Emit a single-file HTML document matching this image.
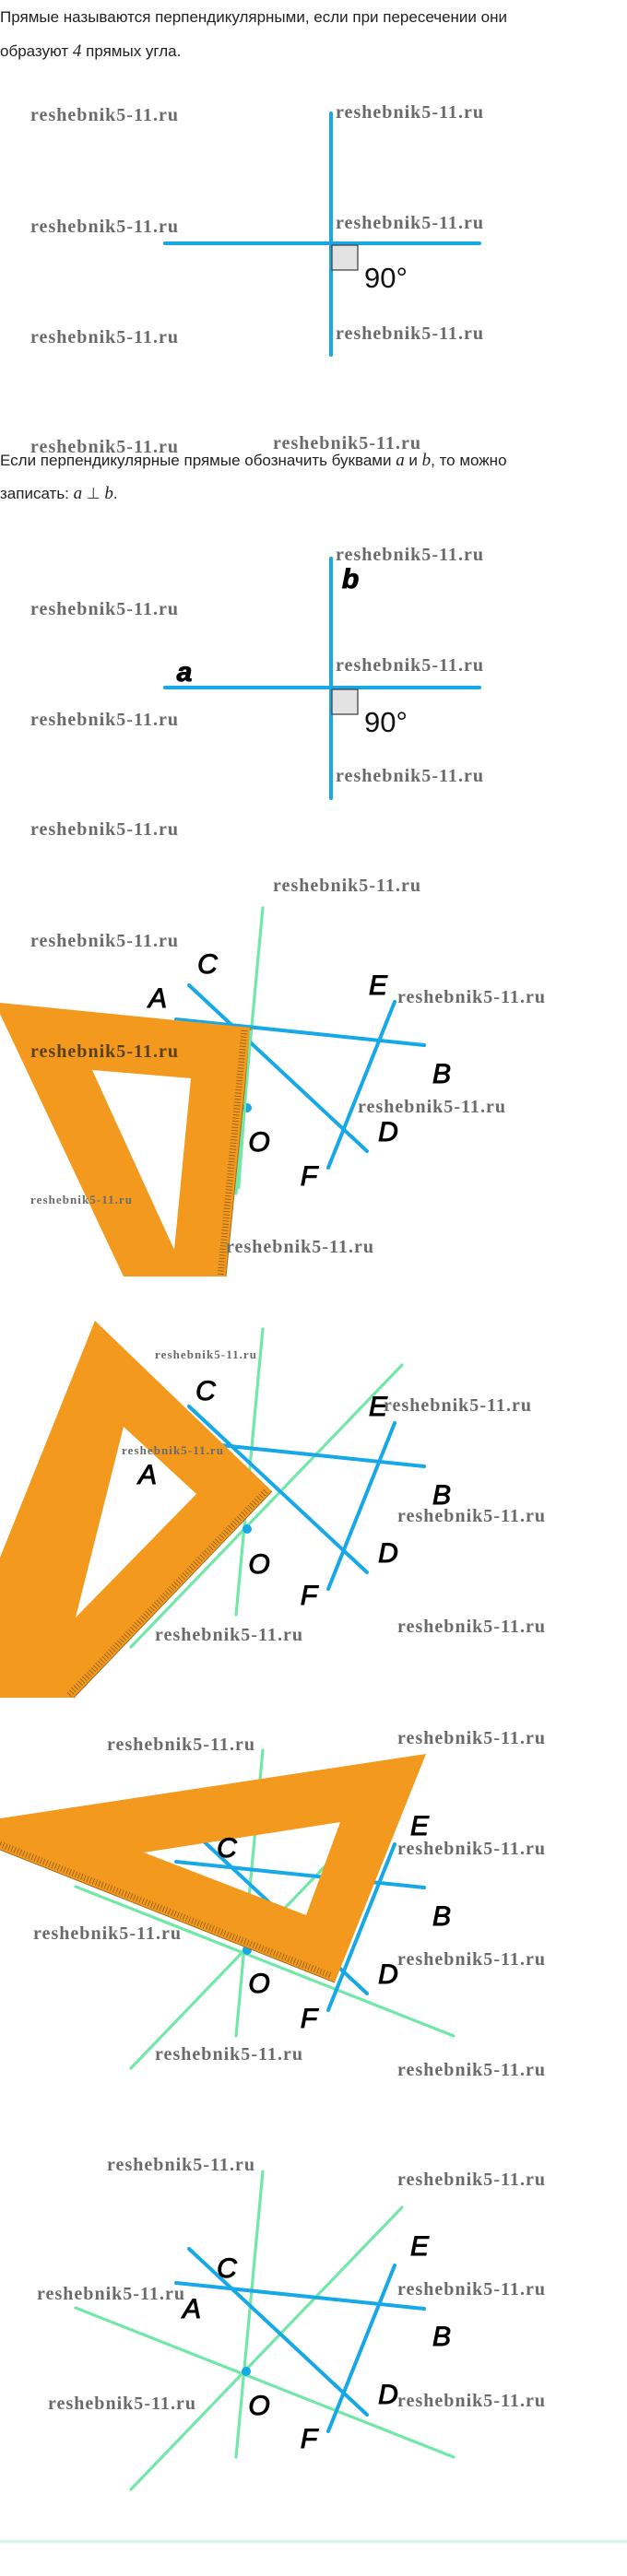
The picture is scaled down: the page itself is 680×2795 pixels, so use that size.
<!DOCTYPE html>
<html><head><meta charset="utf-8"><style>
html,body{margin:0;padding:0;background:#fff;}
svg{display:block;}
.t{font-family:"Liberation Sans",sans-serif;font-size:17px;fill:#222;}
.m{font-family:"Liberation Serif",serif;font-style:italic;font-size:19px;}
.w{font-family:"Liberation Serif",serif;font-weight:bold;font-size:20px;fill:#6a6a6a;}
.ws{font-family:"Liberation Serif",serif;font-weight:bold;font-size:13px;fill:#6a6a6a;}
.l{font-family:"Liberation Sans",sans-serif;font-style:italic;font-size:30px;fill:#000;stroke:#000;stroke-width:1;text-anchor:middle;}
.d{font-family:"Liberation Sans",sans-serif;font-size:31px;fill:#111;}
.b{stroke:#17a8e8;stroke-width:4;stroke-linecap:round;fill:none;}
.g{stroke:#72e8a8;stroke-width:3.2;stroke-linecap:round;fill:none;}
.tri{fill:#f39a1e;fill-rule:evenodd;}
.tick{stroke:#8a5a18;stroke-width:7;stroke-dasharray:0.8 2.6;fill:none;}
</style></head><body>
<svg width="680" height="2795" viewBox="0 0 680 2795" xmlns="http://www.w3.org/2000/svg">
<text class="t" x="0" y="24">Прямые называются перпендикулярными, если при пересечении они</text>
<text class="t" x="0" y="61">образуют <tspan class="m">4</tspan> прямых угла.</text>

<line class="b" x1="179" y1="264" x2="520" y2="264"/>
<line class="b" x1="359" y1="123" x2="359" y2="385"/>
<rect x="360" y="266" width="28" height="27" fill="#e3e3e3" stroke="#444" stroke-width="1.3"/>
<text class="d" x="395" y="312">90°</text>

<text class="w" textLength="160" x="33" y="131">reshebnik5-11.ru</text>
<text class="w" textLength="160" x="33" y="252">reshebnik5-11.ru</text>
<text class="w" textLength="160" x="33" y="372">reshebnik5-11.ru</text>
<text class="w" textLength="160" x="33" y="491">reshebnik5-11.ru</text>
<text class="w" textLength="160" x="364" y="128">reshebnik5-11.ru</text>
<text class="w" textLength="160" x="364" y="248">reshebnik5-11.ru</text>
<text class="w" textLength="160" x="364" y="368">reshebnik5-11.ru</text>
<text class="w" textLength="160" x="296" y="487">reshebnik5-11.ru</text>

<text class="t" x="0" y="505">Если перпендикулярные прямые обозначить буквами <tspan class="m">a</tspan> и <tspan class="m">b</tspan>, то можно</text>
<text class="t" x="0" y="541">записать: <tspan class="m">a</tspan> <tspan font-family="DejaVu Sans" fill="#444">⊥</tspan> <tspan class="m">b</tspan>.</text>

<line class="b" x1="179" y1="746" x2="520" y2="746"/>
<line class="b" x1="359" y1="606" x2="359" y2="866"/>
<rect x="360" y="748" width="28" height="27" fill="#e3e3e3" stroke="#444" stroke-width="1.3"/>
<text class="d" x="395" y="794">90°</text>
<text class="l" x="380" y="638" style="font-weight:bold">b</text>
<text class="l" x="200" y="739" style="font-weight:bold">a</text>

<text class="w" textLength="160" x="364" y="608">reshebnik5-11.ru</text>
<text class="w" textLength="160" x="364" y="728">reshebnik5-11.ru</text>
<text class="w" textLength="160" x="364" y="848">reshebnik5-11.ru</text>
<text class="w" textLength="160" x="33" y="667">reshebnik5-11.ru</text>
<text class="w" textLength="160" x="33" y="787">reshebnik5-11.ru</text>
<text class="w" textLength="160" x="33" y="906">reshebnik5-11.ru</text>

<g transform="translate(0,-1371)">
<line class="g" x1="285" y1="2356" x2="256" y2="2666"/>
<line class="b" x1="191" y1="2477" x2="460" y2="2505"/>
<line class="b" x1="205" y1="2440" x2="398" y2="2620"/>
<line class="b" x1="428" y1="2458" x2="356" y2="2638"/>
<circle cx="268" cy="2573" r="5" fill="#17a8e8"/>
</g>
<path class="tri" d="M0,1088 L272,1115 L245,1385 L134,1385 L0,1100 Z M100,1161 L207,1170 L189,1356 Z"/>
<line class="tick" x1="265" y1="1118" x2="239" y2="1385"/>
<line x1="272" y1="1115" x2="245" y2="1385" stroke="#a86a1c" stroke-width="1"/>
<line x1="272" y1="1118" x2="259" y2="1290" stroke="#72e8a8" stroke-width="2.5"/>
<text class="l" x="225" y="1056">C</text>
<text class="l" x="171" y="1093">A</text>
<text class="l" x="410" y="1079">E</text>
<text class="l" x="479" y="1175">B</text>
<text class="l" x="421" y="1238">D</text>
<text class="l" x="281" y="1249">O</text>
<text class="l" x="335" y="1286">F</text>
<text class="w" textLength="160" x="296" y="967">reshebnik5-11.ru</text>
<text class="w" textLength="160" x="33" y="1027">reshebnik5-11.ru</text>
<text class="w" textLength="160" x="431" y="1088">reshebnik5-11.ru</text>
<text class="w" textLength="160" x="33" y="1147" style="fill:#5a4020">reshebnik5-11.ru</text>
<text class="w" textLength="160" x="388" y="1207">reshebnik5-11.ru</text>
<text class="ws" textLength="110" x="33" y="1306">reshebnik5-11.ru</text>
<text class="w" textLength="160" x="245" y="1359">reshebnik5-11.ru</text>

<g transform="translate(0,-914)">
<line class="g" x1="285" y1="2356" x2="256" y2="2666"/>
<line class="g" x1="436" y1="2395" x2="142" y2="2701"/>
<line class="b" x1="191" y1="2477" x2="460" y2="2505"/>
<line class="b" x1="205" y1="2440" x2="398" y2="2620"/>
<line class="b" x1="428" y1="2458" x2="356" y2="2638"/>
<circle cx="268" cy="2573" r="5" fill="#17a8e8"/>
</g>
<path class="tri" d="M103,1433 L295,1618 L80,1842 L0,1842 L0,1690 Z M134,1548 L213,1621 L82,1755 Z"/>
<line class="tick" x1="288" y1="1618" x2="74" y2="1840"/>
<line x1="295" y1="1618" x2="80" y2="1842" stroke="#a86a1c" stroke-width="1"/>
<text class="l" x="223" y="1519">C</text>
<text class="l" x="160" y="1610">A</text>
<text class="l" x="410" y="1536">E</text>
<text class="l" x="479" y="1632">B</text>
<text class="l" x="421" y="1695">D</text>
<text class="l" x="281" y="1707">O</text>
<text class="l" x="335" y="1741">F</text>
<text class="ws" textLength="110" x="168" y="1474">reshebnik5-11.ru</text>
<text class="w" textLength="160" x="416" y="1531">reshebnik5-11.ru</text>
<text class="ws" textLength="110" x="132" y="1578">reshebnik5-11.ru</text>
<text class="w" textLength="160" x="431" y="1651">reshebnik5-11.ru</text>
<text class="w" textLength="160" x="168" y="1780">reshebnik5-11.ru</text>
<text class="w" textLength="160" x="431" y="1771">reshebnik5-11.ru</text>

<g transform="translate(0,-457)">
<line class="g" x1="285" y1="2356" x2="256" y2="2666"/>
<line class="g" x1="436" y1="2395" x2="142" y2="2701"/>
<line class="g" x1="82" y1="2504" x2="492" y2="2666"/>
<line class="b" x1="191" y1="2477" x2="460" y2="2505"/>
<line class="b" x1="205" y1="2440" x2="398" y2="2620"/>
<circle cx="268" cy="2573" r="5" fill="#17a8e8"/>
</g>
<path class="tri" d="M0,1973 L462,1903 L363,2151 L0,2007 Z M156,2010 L369,1977 L332,2078 Z"/>
<line class="tick" x1="0" y1="2001" x2="360" y2="2144"/>
<line x1="0" y1="2007" x2="363" y2="2151" stroke="#a86a1c" stroke-width="1"/>
<line class="b" x1="428" y1="2001" x2="356" y2="2181"/>
<text class="l" x="246" y="2015">C</text>
<text class="l" x="455" y="1991">E</text>
<text class="l" x="479" y="2089">B</text>
<text class="l" x="421" y="2152">D</text>
<text class="l" x="281" y="2162">O</text>
<text class="l" x="335" y="2200">F</text>
<text class="w" textLength="160" x="116" y="1899">reshebnik5-11.ru</text>
<text class="w" textLength="160" x="431" y="1892">reshebnik5-11.ru</text>
<text class="w" textLength="160" x="431" y="2012">reshebnik5-11.ru</text>
<text class="w" textLength="160" x="36" y="2104">reshebnik5-11.ru</text>
<text class="w" textLength="160" x="431" y="2132">reshebnik5-11.ru</text>
<text class="w" textLength="160" x="168" y="2235">reshebnik5-11.ru</text>
<text class="w" textLength="160" x="431" y="2252">reshebnik5-11.ru</text>

<line class="g" x1="285" y1="2356" x2="256" y2="2666"/>
<line class="g" x1="436" y1="2395" x2="142" y2="2701"/>
<line class="g" x1="82" y1="2504" x2="492" y2="2666"/>
<line class="b" x1="191" y1="2477" x2="460" y2="2505"/>
<line class="b" x1="205" y1="2440" x2="398" y2="2620"/>
<line class="b" x1="428" y1="2458" x2="356" y2="2638"/>
<circle cx="267" cy="2573" r="5" fill="#17a8e8"/>
<text class="l" x="246" y="2471">C</text>
<text class="l" x="208" y="2515">A</text>
<text class="l" x="455" y="2447">E</text>
<text class="l" x="479" y="2545">B</text>
<text class="l" x="421" y="2608">D</text>
<text class="l" x="281" y="2620">O</text>
<text class="l" x="335" y="2656">F</text>
<text class="w" textLength="160" x="116" y="2355">reshebnik5-11.ru</text>
<text class="w" textLength="160" x="431" y="2371">reshebnik5-11.ru</text>
<text class="w" textLength="160" x="40" y="2495">reshebnik5-11.ru</text>
<text class="w" textLength="160" x="431" y="2490">reshebnik5-11.ru</text>
<text class="w" textLength="160" x="52" y="2614">reshebnik5-11.ru</text>
<text class="w" textLength="160" x="431" y="2611">reshebnik5-11.ru</text>

<rect x="0" y="2756" width="680" height="3" fill="#d6f7ea"/>
</svg>
</body></html>
